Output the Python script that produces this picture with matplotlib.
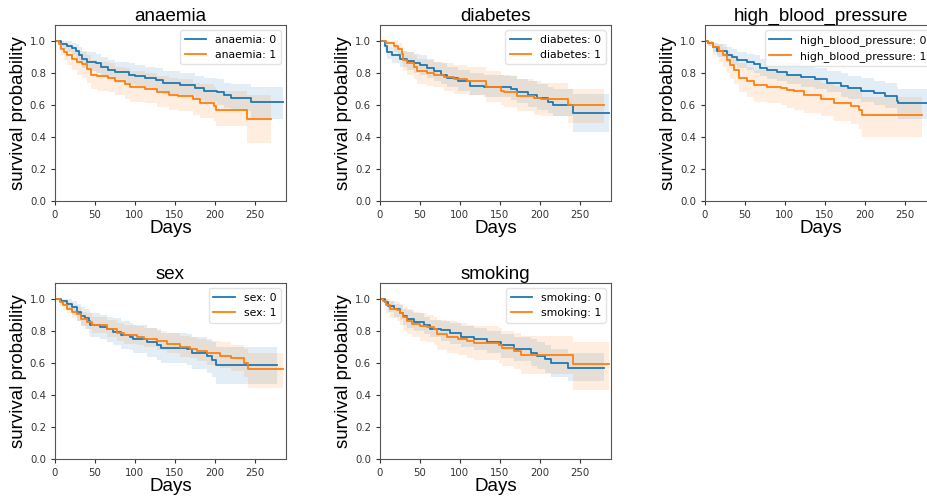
import matplotlib
matplotlib.use("Agg")
import matplotlib.pyplot as plt

# Kaplan-Meier estimates per clinical feature: step times (days), survival,
# and lower / upper confidence limits at the same steps.

# anaemia
anaemia0_t = [0, 8, 15, 21, 26, 30, 34, 40, 51, 58, 66, 75, 92, 100, 113, 126, 135, 156, 175, 186, 203, 212, 220, 245, 285]
anaemia0_s = [1.0, 0.98, 0.97, 0.955, 0.94, 0.91, 0.885, 0.87, 0.86, 0.84, 0.82, 0.805, 0.79, 0.78, 0.77, 0.755, 0.74, 0.725, 0.705, 0.69, 0.68, 0.66, 0.645, 0.62, 0.62]
anaemia0_lo = [1.0, 0.95, 0.93, 0.91, 0.89, 0.86, 0.83, 0.81, 0.80, 0.78, 0.76, 0.74, 0.73, 0.72, 0.70, 0.69, 0.67, 0.66, 0.63, 0.62, 0.60, 0.58, 0.56, 0.51, 0.51]
anaemia0_hi = [1.0, 1.0, 1.0, 0.99, 0.98, 0.96, 0.94, 0.93, 0.92, 0.90, 0.88, 0.87, 0.86, 0.85, 0.84, 0.83, 0.81, 0.80, 0.78, 0.77, 0.76, 0.74, 0.73, 0.71, 0.71]

anaemia1_t = [0, 5, 8, 11, 15, 21, 28, 34, 40, 45, 53, 66, 75, 88, 94, 113, 128, 143, 154, 173, 182, 199, 201, 240, 270]
anaemia1_s = [1.0, 0.98, 0.95, 0.93, 0.91, 0.89, 0.87, 0.855, 0.825, 0.79, 0.78, 0.77, 0.75, 0.73, 0.715, 0.70, 0.68, 0.665, 0.655, 0.635, 0.615, 0.595, 0.57, 0.515, 0.515]
anaemia1_lo = [1.0, 0.95, 0.91, 0.88, 0.85, 0.82, 0.79, 0.77, 0.74, 0.70, 0.69, 0.68, 0.66, 0.64, 0.62, 0.61, 0.59, 0.57, 0.56, 0.54, 0.52, 0.50, 0.47, 0.36, 0.36]
anaemia1_hi = [1.0, 1.0, 1.0, 0.99, 0.97, 0.96, 0.94, 0.93, 0.91, 0.88, 0.87, 0.86, 0.84, 0.83, 0.81, 0.80, 0.78, 0.77, 0.76, 0.74, 0.73, 0.71, 0.69, 0.66, 0.66]

# diabetes
diabetes0_t = [0, 6, 9, 15, 25, 34, 42, 50, 59, 67, 76, 84, 97, 113, 130, 164, 172, 185, 197, 210, 216, 241, 286]
diabetes0_s = [1.0, 0.97, 0.93, 0.91, 0.89, 0.875, 0.86, 0.85, 0.83, 0.81, 0.79, 0.77, 0.75, 0.72, 0.715, 0.70, 0.68, 0.66, 0.645, 0.62, 0.60, 0.55, 0.55]
diabetes0_lo = [1.0, 0.94, 0.89, 0.86, 0.84, 0.82, 0.80, 0.79, 0.77, 0.75, 0.73, 0.71, 0.69, 0.66, 0.65, 0.63, 0.61, 0.59, 0.57, 0.55, 0.53, 0.43, 0.43]
diabetes0_hi = [1.0, 1.0, 0.97, 0.96, 0.94, 0.93, 0.92, 0.91, 0.89, 0.87, 0.86, 0.84, 0.82, 0.80, 0.79, 0.78, 0.76, 0.75, 0.73, 0.71, 0.70, 0.67, 0.67]

diabetes1_t = [0, 8, 17, 23, 27, 29, 34, 42, 46, 59, 67, 80, 92, 109, 132, 151, 155, 172, 193, 202, 235, 280]
diabetes1_s = [1.0, 0.99, 0.97, 0.95, 0.92, 0.88, 0.865, 0.835, 0.815, 0.80, 0.79, 0.775, 0.76, 0.75, 0.71, 0.69, 0.68, 0.655, 0.645, 0.635, 0.60, 0.60]
diabetes1_lo = [1.0, 0.97, 0.93, 0.90, 0.86, 0.81, 0.79, 0.76, 0.73, 0.72, 0.71, 0.69, 0.67, 0.66, 0.62, 0.60, 0.59, 0.56, 0.54, 0.53, 0.49, 0.49]
diabetes1_hi = [1.0, 1.0, 1.0, 0.99, 0.97, 0.94, 0.93, 0.91, 0.89, 0.88, 0.87, 0.86, 0.85, 0.84, 0.81, 0.79, 0.78, 0.76, 0.75, 0.74, 0.70, 0.70]

# high_blood_pressure
hbp0_t = [0, 4, 10, 15, 27, 34, 40, 53, 61, 69, 78, 90, 103, 120, 137, 153, 170, 179, 195, 212, 225, 240, 242, 285]
hbp0_s = [1.0, 0.99, 0.96, 0.94, 0.915, 0.90, 0.88, 0.87, 0.855, 0.83, 0.82, 0.805, 0.79, 0.775, 0.76, 0.74, 0.72, 0.705, 0.69, 0.675, 0.655, 0.625, 0.61, 0.61]
hbp0_lo = [1.0, 0.97, 0.93, 0.90, 0.87, 0.85, 0.83, 0.82, 0.80, 0.78, 0.76, 0.75, 0.73, 0.71, 0.70, 0.68, 0.65, 0.64, 0.62, 0.60, 0.58, 0.53, 0.51, 0.51]
hbp0_hi = [1.0, 1.0, 0.99, 0.98, 0.96, 0.95, 0.93, 0.92, 0.91, 0.89, 0.88, 0.87, 0.86, 0.84, 0.83, 0.81, 0.80, 0.78, 0.77, 0.75, 0.74, 0.71, 0.70, 0.70]

hbp1_t = [0, 4, 10, 17, 23, 27, 31, 36, 42, 53, 61, 78, 95, 103, 111, 124, 145, 162, 183, 193, 197, 271]
hbp1_s = [1.0, 0.99, 0.96, 0.935, 0.91, 0.88, 0.85, 0.82, 0.77, 0.75, 0.725, 0.715, 0.705, 0.695, 0.685, 0.66, 0.64, 0.615, 0.595, 0.57, 0.535, 0.535]
hbp1_lo = [1.0, 0.97, 0.91, 0.87, 0.84, 0.80, 0.76, 0.73, 0.68, 0.65, 0.62, 0.61, 0.60, 0.58, 0.57, 0.55, 0.53, 0.50, 0.48, 0.45, 0.40, 0.39]
hbp1_hi = [1.0, 1.0, 0.99, 0.98, 0.96, 0.94, 0.92, 0.90, 0.86, 0.84, 0.82, 0.81, 0.80, 0.79, 0.78, 0.76, 0.74, 0.72, 0.70, 0.68, 0.65, 0.65]

# sex
sex0_t = [0, 8, 15, 21, 27, 33, 38, 42, 44, 56, 65, 73, 82, 94, 98, 115, 128, 132, 165, 172, 190, 197, 201, 278]
sex0_s = [1.0, 0.99, 0.97, 0.95, 0.92, 0.895, 0.88, 0.86, 0.835, 0.825, 0.81, 0.795, 0.775, 0.765, 0.75, 0.73, 0.715, 0.695, 0.685, 0.665, 0.645, 0.62, 0.59, 0.59]
sex0_lo = [1.0, 0.97, 0.93, 0.90, 0.86, 0.83, 0.81, 0.79, 0.76, 0.75, 0.73, 0.71, 0.69, 0.68, 0.66, 0.64, 0.62, 0.60, 0.59, 0.56, 0.54, 0.51, 0.47, 0.47]
sex0_hi = [1.0, 1.0, 1.0, 0.99, 0.97, 0.95, 0.94, 0.93, 0.91, 0.90, 0.89, 0.88, 0.86, 0.85, 0.84, 0.82, 0.81, 0.79, 0.78, 0.76, 0.75, 0.73, 0.70, 0.70]

sex1_t = [0, 6, 10, 15, 21, 27, 33, 40, 46, 65, 77, 86, 102, 111, 128, 140, 157, 169, 178, 190, 207, 220, 236, 241, 285]
sex1_s = [1.0, 0.98, 0.96, 0.94, 0.92, 0.905, 0.875, 0.855, 0.835, 0.81, 0.79, 0.775, 0.765, 0.75, 0.735, 0.72, 0.70, 0.69, 0.675, 0.66, 0.645, 0.63, 0.60, 0.565, 0.565]
sex1_lo = [1.0, 0.96, 0.93, 0.91, 0.88, 0.86, 0.83, 0.81, 0.79, 0.76, 0.74, 0.72, 0.71, 0.70, 0.68, 0.66, 0.64, 0.63, 0.61, 0.59, 0.57, 0.55, 0.51, 0.445, 0.445]
sex1_hi = [1.0, 1.0, 0.99, 0.98, 0.96, 0.95, 0.92, 0.91, 0.89, 0.87, 0.85, 0.84, 0.83, 0.82, 0.80, 0.79, 0.77, 0.76, 0.75, 0.74, 0.73, 0.71, 0.69, 0.66, 0.66]

# smoking
smoking0_t = [0, 6, 10, 17, 25, 29, 34, 42, 55, 63, 76, 88, 101, 118, 134, 151, 168, 189, 197, 206, 214, 235, 280]
smoking0_s = [1.0, 0.98, 0.955, 0.935, 0.915, 0.895, 0.875, 0.855, 0.835, 0.815, 0.805, 0.785, 0.765, 0.75, 0.73, 0.71, 0.685, 0.665, 0.645, 0.625, 0.60, 0.57, 0.57]
smoking0_lo = [1.0, 0.96, 0.92, 0.89, 0.87, 0.84, 0.82, 0.80, 0.78, 0.76, 0.74, 0.72, 0.70, 0.68, 0.66, 0.63, 0.61, 0.58, 0.56, 0.54, 0.51, 0.49, 0.49]
smoking0_hi = [1.0, 1.0, 0.99, 0.97, 0.96, 0.94, 0.93, 0.91, 0.89, 0.87, 0.86, 0.85, 0.83, 0.82, 0.80, 0.78, 0.76, 0.75, 0.73, 0.71, 0.69, 0.66, 0.66]

smoking1_t = [0, 4, 8, 13, 21, 25, 29, 34, 40, 50, 59, 67, 71, 84, 97, 109, 118, 149, 153, 168, 176, 242, 286]
smoking1_s = [1.0, 0.99, 0.96, 0.94, 0.93, 0.91, 0.885, 0.865, 0.845, 0.83, 0.825, 0.81, 0.78, 0.765, 0.75, 0.735, 0.725, 0.71, 0.695, 0.675, 0.65, 0.595, 0.595]
smoking1_lo = [1.0, 0.96, 0.91, 0.88, 0.86, 0.84, 0.80, 0.78, 0.76, 0.74, 0.73, 0.71, 0.68, 0.66, 0.65, 0.63, 0.62, 0.60, 0.58, 0.56, 0.53, 0.43, 0.43]
smoking1_hi = [1.0, 1.0, 1.0, 0.99, 0.98, 0.97, 0.95, 0.94, 0.92, 0.91, 0.90, 0.89, 0.87, 0.86, 0.85, 0.84, 0.83, 0.82, 0.80, 0.79, 0.77, 0.73, 0.73]

features = ["anaemia", "diabetes", "high_blood_pressure", "sex", "smoking"]
curves = {
    "anaemia": [(anaemia0_t, anaemia0_s, anaemia0_lo, anaemia0_hi),
                (anaemia1_t, anaemia1_s, anaemia1_lo, anaemia1_hi)],
    "diabetes": [(diabetes0_t, diabetes0_s, diabetes0_lo, diabetes0_hi),
                 (diabetes1_t, diabetes1_s, diabetes1_lo, diabetes1_hi)],
    "high_blood_pressure": [(hbp0_t, hbp0_s, hbp0_lo, hbp0_hi),
                            (hbp1_t, hbp1_s, hbp1_lo, hbp1_hi)],
    "sex": [(sex0_t, sex0_s, sex0_lo, sex0_hi),
            (sex1_t, sex1_s, sex1_lo, sex1_hi)],
    "smoking": [(smoking0_t, smoking0_s, smoking0_lo, smoking0_hi),
                (smoking1_t, smoking1_s, smoking1_lo, smoking1_hi)],
}
colors = ["#1f77b4", "#ff7f0e"]

W, H = 927, 498
fig = plt.figure(figsize=(W / 100, H / 100), dpi=100)

# axes boxes in pixels: left, top
col_left = [55, 380, 705]
row_top = [25, 283]
ax_w, ax_h = 231, 176

label_font = ["Liberation Sans", "DejaVu Sans"]

for i, feat in enumerate(features):
    r, c = divmod(i, 3)
    left = col_left[c] / W
    bottom = 1 - (row_top[r] + ax_h) / H
    ax = fig.add_axes([left, bottom, ax_w / W, ax_h / H])
    for g, (t, s, lo, hi) in enumerate(curves[feat]):
        ax.fill_between(t, lo, hi, step="post", color=colors[g],
                        alpha=0.13, linewidth=0)
        ax.step(t, s, where="post", color=colors[g], lw=1.3,
                label=f"{feat}: {g}")
    ax.set_xlim(0, 289)
    ax.set_ylim(0, 1.1)
    ax.set_xticks([0, 50, 100, 150, 200, 250])
    ax.set_yticks([0.0, 0.2, 0.4, 0.6, 0.8, 1.0])
    ax.tick_params(labelsize=7.3, length=3, color="#333333", labelcolor="#333333")
    for sp in ax.spines.values():
        sp.set_color("#555555")
    ax.set_title(feat, fontsize=13.5, family=label_font, pad=3)
    ax.set_xlabel("Days", fontsize=13.5, family=label_font, labelpad=0)
    ax.set_ylabel("survival probability", fontsize=13.5, family=label_font, labelpad=2)
    ax.legend(loc="upper right", fontsize=7.8, frameon=True, framealpha=0.8,
              edgecolor="#dddddd", handlelength=2.0)

fig.savefig("out.png", dpi=100)
